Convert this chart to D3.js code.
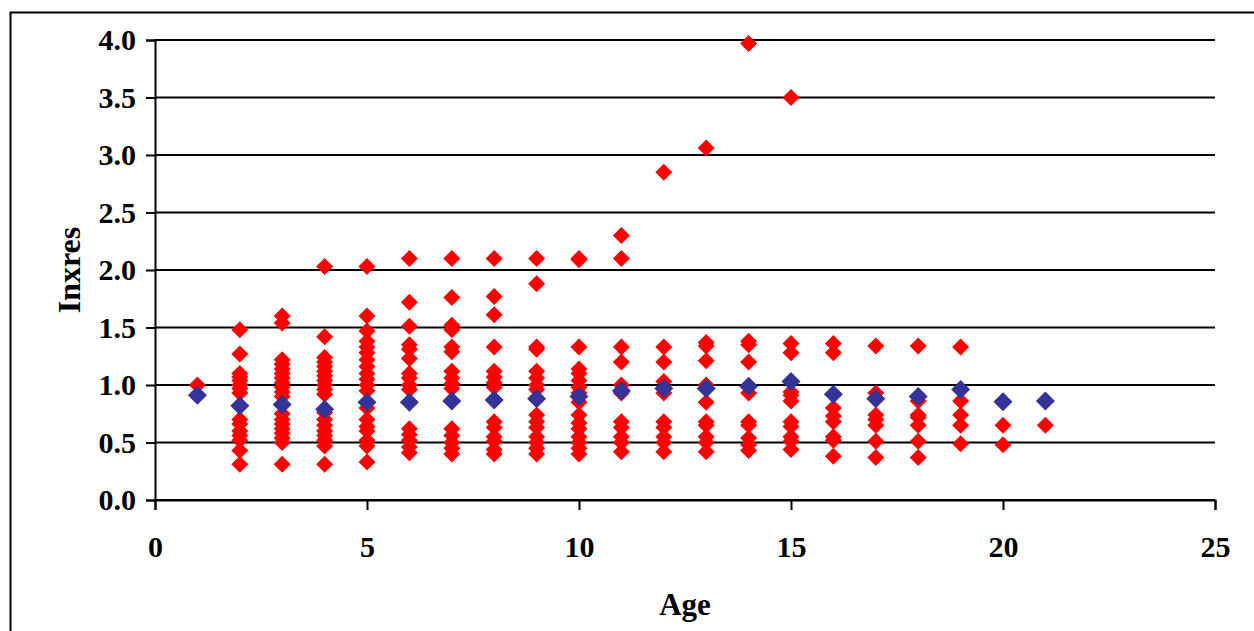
<!DOCTYPE html>
<html>
<head>
<meta charset="utf-8">
<script src="https://cdn.jsdelivr.net/npm/d3@7"></script>
<style>
  body { margin: 0; background: #fff; }
  svg { display: block; }
</style>
</head>
<body>
<div id="chart"></div>
<script>
// Ages on the x axis (one column of points per age)
const ages = [1, 2, 3, 4, 5, 6, 7, 8, 9, 10, 11, 12, 13, 14, 15, 16, 17, 18, 19, 20, 21];

// Individual Inxres values per age (red)
const observed = [
  [1.00],
  [1.48, 1.27, 1.10, 1.07, 1.04, 1.00, 0.97, 0.93, 0.70, 0.66, 0.60, 0.56, 0.52, 0.43, 0.31],
  [1.60, 1.54, 1.22, 1.18, 1.14, 1.10, 1.06, 1.02, 0.98, 0.94, 0.90, 0.75, 0.70, 0.66, 0.62, 0.58, 0.54, 0.50, 0.31],
  [2.03, 1.42, 1.24, 1.20, 1.16, 1.12, 1.08, 1.04, 1.00, 0.96, 0.92, 0.76, 0.70, 0.65, 0.60, 0.56, 0.52, 0.47, 0.31],
  [2.03, 1.60, 1.47, 1.38, 1.33, 1.28, 1.22, 1.16, 1.10, 1.05, 1.00, 0.95, 0.80, 0.70, 0.64, 0.60, 0.52, 0.47, 0.33],
  [2.10, 1.72, 1.51, 1.35, 1.31, 1.23, 1.10, 1.06, 1.00, 0.96, 0.62, 0.57, 0.52, 0.46, 0.41],
  [2.10, 1.76, 1.52, 1.48, 1.33, 1.29, 1.12, 1.06, 1.01, 0.97, 0.62, 0.56, 0.50, 0.45, 0.40],
  [2.10, 1.77, 1.61, 1.33, 1.12, 1.07, 1.02, 0.98, 0.68, 0.63, 0.55, 0.51, 0.44, 0.40],
  [2.10, 1.88, 1.33, 1.31, 1.12, 1.06, 1.00, 0.96, 0.74, 0.68, 0.63, 0.55, 0.50, 0.45, 0.40],
  [2.10, 2.09, 1.33, 1.14, 1.10, 1.04, 0.98, 0.93, 0.85, 0.74, 0.67, 0.62, 0.55, 0.50, 0.45, 0.40],
  [2.30, 2.10, 1.33, 1.20, 1.00, 0.93, 0.68, 0.63, 0.55, 0.50, 0.42],
  [2.85, 1.33, 1.20, 1.03, 0.93, 0.68, 0.63, 0.55, 0.50, 0.42],
  [3.06, 1.37, 1.34, 1.21, 1.00, 0.85, 0.68, 0.65, 0.55, 0.50, 0.42],
  [3.97, 1.38, 1.35, 1.20, 0.93, 0.68, 0.65, 0.54, 0.48, 0.43],
  [3.50, 1.36, 1.28, 0.94, 0.91, 0.86, 0.68, 0.64, 0.55, 0.51, 0.44],
  [1.36, 1.28, 0.80, 0.73, 0.68, 0.55, 0.52, 0.38],
  [1.34, 0.93, 0.74, 0.70, 0.65, 0.51, 0.37],
  [1.34, 0.86, 0.74, 0.72, 0.65, 0.51, 0.37],
  [1.33, 0.86, 0.74, 0.65, 0.49],
  [0.65, 0.48],
  [0.65]
];

// Mean Inxres per age (blue)
const meanValues = [0.91, 0.82, 0.83, 0.79, 0.85, 0.85, 0.86, 0.87, 0.88, 0.90, 0.95,
                    0.97, 0.97, 0.99, 1.03, 0.92, 0.88, 0.90, 0.96, 0.855, 0.86];

const xTicks = [0, 5, 10, 15, 20, 25];
const yTicks = [0, 0.5, 1.0, 1.5, 2.0, 2.5, 3.0, 3.5, 4.0];

const width = 1254, height = 631;
const margin = {top: 40, right: 39, bottom: 131, left: 155};
const font = "'Liberation Serif', 'Times New Roman', serif";

const svg = d3.select("#chart")
  .append("svg")
    .attr("width", width)
    .attr("height", height);

// chart border (only top/left visible in the frame)
svg.append("rect")
  .attr("x", 10.5).attr("y", 12.5)
  .attr("width", width).attr("height", height)
  .attr("fill", "none")
  .attr("stroke", "#000")
  .attr("stroke-width", 2);

const x = d3.scaleLinear()
  .domain([0, 25])
  .range([margin.left, width - margin.right]);

const y = d3.scaleLinear()
  .domain([0, 4])
  .range([height - margin.bottom, margin.top]);

// horizontal gridlines
svg.append("g")
  .selectAll("line")
  .data(yTicks)
  .join("line")
    .attr("x1", x(0)).attr("x2", x(25))
    .attr("y1", d => y(d)).attr("y2", d => y(d))
    .attr("stroke", "#000")
    .attr("stroke-width", 2);

// y axis
const yAxis = svg.append("g")
  .attr("transform", `translate(${x(0)},0)`)
  .call(d3.axisLeft(y).tickValues(yTicks).tickFormat(d3.format(".1f")).tickSize(9).tickPadding(10));

// x axis
const xAxis = svg.append("g")
  .attr("transform", `translate(0,${y(0)})`)
  .call(d3.axisBottom(x).tickValues(xTicks).tickSize(10).tickPadding(26));

[yAxis, xAxis].forEach(ax => {
  ax.select(".domain").attr("stroke", "#000").attr("stroke-width", 2);
  ax.selectAll(".tick line").attr("stroke", "#000").attr("stroke-width", 2);
  ax.selectAll(".tick text")
    .attr("fill", "#000")
    .style("font-family", font)
    .style("font-weight", "bold")
    .style("font-size", "30px");
});
xAxis.selectAll(".tick text").attr("dy", "0.71em");

// diamond path helper
const diamond = r => `M0,${-r}L${r},0L0,${r}L${-r},0Z`;

// red: individual observations
const points = [];
ages.forEach((a, i) => observed[i].forEach(v => points.push({age: a, value: v})));

svg.append("g")
  .selectAll("path")
  .data(points)
  .join("path")
    .attr("d", diamond(8.5))
    .attr("transform", d => `translate(${x(d.age)},${y(d.value)})`)
    .attr("fill", "#FF0000");

// blue: means
svg.append("g")
  .selectAll("path")
  .data(ages)
  .join("path")
    .attr("d", diamond(9.5))
    .attr("transform", (d, i) => `translate(${x(d)},${y(meanValues[i])})`)
    .attr("fill", "#333399");

// axis titles
svg.append("text")
  .attr("x", (x(0) + x(25)) / 2)
  .attr("y", 615)
  .attr("text-anchor", "middle")
  .style("font-family", font)
  .style("font-weight", "bold")
  .style("font-size", "31px")
  .text("Age");

svg.append("text")
  .attr("transform", `translate(80,${(y(0) + y(4)) / 2}) rotate(-90)`)
  .attr("text-anchor", "middle")
  .style("font-family", font)
  .style("font-weight", "bold")
  .style("font-size", "32px")
  .text("Inxres");
</script>
</body>
</html>
